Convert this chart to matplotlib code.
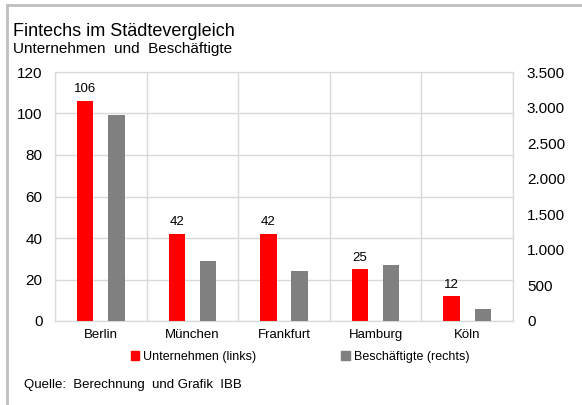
import numpy as np
import matplotlib.pyplot as plt
from matplotlib.patches import Patch
from matplotlib.lines import Line2D

plt.rcParams['font.family'] = ['Liberation Sans', 'DejaVu Sans']

# Daten
staedte = ["Berlin", "München", "Frankfurt", "Hamburg", "Köln"]
unternehmen = [106, 42, 42, 25, 12]
beschaeftigte = [2890, 840, 700, 790, 165]

rot = "#ff0000"
grau = "#808080"
gitter = "#d9d9d9"

W, H = 582, 405
fig = plt.figure(figsize=(W / 100, H / 100), dpi=100)

# Rahmen oben und links
fig.add_artist(Line2D([7 / W, 1], [1 - 5 / H, 1 - 5 / H], color="#bfbfbf", lw=2))
fig.add_artist(Line2D([7 / W, 7 / W], [0, 1 - 5 / H], color="#bfbfbf", lw=2))

# Plotbereich in Pixeln
l, t, r, b = 55, 72, 513, 321
ax = fig.add_axes([l / W, 1 - b / H, (r - l) / W, (b - t) / H])
ax2 = ax.twinx()

x = np.arange(len(staedte))
off = 0.17
bw = 0.18

ax.bar(x - off, unternehmen, width=bw, color=rot, zorder=3)
ax2.bar(x + off, beschaeftigte, width=bw, color=grau, zorder=3)

for xi, v in zip(x, unternehmen):
    ax.annotate(str(v), (xi - off, v), xytext=(0, 4), textcoords="offset points",
                ha="center", va="bottom", fontsize=9.5)

ax.set_xlim(-0.5, len(staedte) - 0.5)
ax.set_ylim(0, 120)
ax.set_yticks(range(0, 121, 20))
ax2.set_ylim(0, 3500)
ax2.set_yticks(range(0, 3501, 500))
ax2.set_yticklabels([f"{v:,}".replace(",", ".") for v in range(0, 3501, 500)])

ax.set_xticks(x)
ax.set_xticklabels(staedte, fontsize=9.5)
ax.set_xticks(np.arange(-0.5, len(staedte)), minor=True)
ax.grid(axis="y", color=gitter, lw=1, zorder=0)
ax.grid(axis="x", which="minor", color=gitter, lw=1, zorder=0)
ax.set_axisbelow(True)

ax.tick_params(axis="both", which="both", length=0)
ax.tick_params(axis="y", labelsize=11, pad=9)
ax.tick_params(axis="x", pad=6)
ax2.tick_params(axis="y", length=0, labelsize=11, pad=10)

for a in (ax, ax2):
    for s in a.spines.values():
        s.set_color(gitter)
ax2.patch.set_visible(False)

# Titel
fig.text(13 / W, 1 - 36 / H, "Fintechs im Städtevergleich", fontsize=13, va="baseline")
fig.text(13 / W, 1 - 53 / H, "Unternehmen  und  Beschäftigte", fontsize=11, va="baseline")

# Legende
handles = [Patch(color=rot), Patch(color=grau)]
fig.legend(handles, ["Unternehmen (links)", "Beschäftigte (rechts)"],
           loc="center", bbox_to_anchor=(300 / W, 1 - 357 / H), ncol=2,
           frameon=False, fontsize=9, handlelength=0.7, handleheight=0.7,
           handletextpad=0.3, columnspacing=6.8)

fig.text(24 / W, 1 - 385 / H, "Quelle:  Berechnung  und Grafik  IBB", fontsize=9.5, va="center")

plt.savefig("out.png", dpi=100)
